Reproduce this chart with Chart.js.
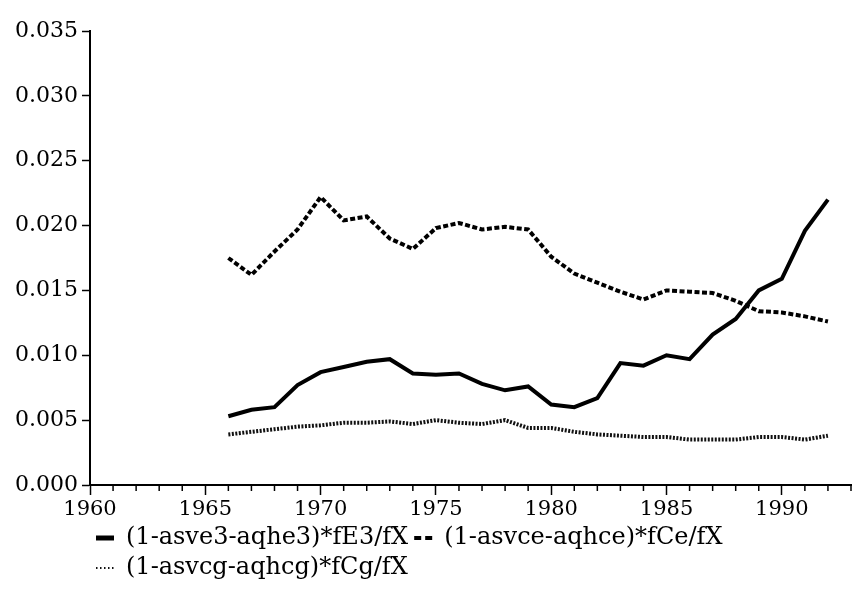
<!DOCTYPE html>
<html>
<head>
<meta charset="utf-8">
<script src="https://cdn.jsdelivr.net/npm/chart.js@4/dist/chart.umd.min.js"></script>
<style>
  body { margin: 0; background: #fff; }
  #wrap { width: 852px; height: 590px; }
</style>
</head>
<body>
<div id="wrap"><canvas id="chart" width="852" height="590"></canvas></div>
<script>
// data
const years = [1966, 1967, 1968, 1969, 1970, 1971, 1972, 1973, 1974, 1975, 1976, 1977, 1978,
               1979, 1980, 1981, 1982, 1983, 1984, 1985, 1986, 1987, 1988, 1989, 1990, 1991, 1992];
const fE3 = [0.0053, 0.0058, 0.0060, 0.0077, 0.0087, 0.0091, 0.0095, 0.0097, 0.0086, 0.0085, 0.0086, 0.0078, 0.0073,
             0.0076, 0.0062, 0.0060, 0.0067, 0.0094, 0.0092, 0.0100, 0.0097, 0.0116, 0.0128, 0.0150, 0.0159, 0.0196, 0.0220];
const fCe = [0.0175, 0.0162, 0.0180, 0.0197, 0.0222, 0.0204, 0.0207, 0.0190, 0.0182, 0.0198, 0.0202, 0.0197, 0.0199,
             0.0197, 0.0176, 0.0163, 0.0156, 0.0149, 0.0143, 0.0150, 0.0149, 0.0148, 0.0142, 0.0134, 0.0133, 0.0130, 0.0126];
const fCg = [0.0039, 0.0041, 0.0043, 0.0045, 0.0046, 0.0048, 0.0048, 0.0049, 0.0047, 0.0050, 0.0048, 0.0047, 0.0050,
             0.0044, 0.0044, 0.0041, 0.0039, 0.0038, 0.0037, 0.0037, 0.0035, 0.0035, 0.0035, 0.0037, 0.0037, 0.0035, 0.0038];

const seriesNames = ['(1-asve3-aqhe3)*fE3/fX', '(1-asvce-aqhce)*fCe/fX', '(1-asvcg-aqhcg)*fCg/fX'];

// axis ticks
const xMajor = [1960, 1965, 1970, 1975, 1980, 1985, 1990];
const xMinor = [1961, 1962, 1963, 1964, 1966, 1967, 1968, 1969, 1971, 1972, 1973, 1974, 1976, 1977, 1978, 1979,
                1981, 1982, 1983, 1984, 1986, 1987, 1988, 1989, 1991, 1992, 1993];
const yTicks = [0, 0.005, 0.010, 0.015, 0.020, 0.025, 0.030, 0.035];

const FONT = 'DejaVu Serif';

// lijnstijlen: [dikte, streepjes] voor plot en legenda
const lineDash = [[], [5, 2.5], [2, 1.5]];
const legendDash = [[], [7, 4], [1.5, 2.5]];
const legendWidth = [5, 4, 2];

function pts(vals) {
    return years.map((yr, i) => ({ x: yr, y: vals[i] }));
}

// kleine jaar-tickjes onder de x-as
const minorTicks = {
    id: 'minorTicks',
    afterDraw(chart) {
        const xs = chart.scales.x;
        const ctx = chart.ctx;
        ctx.save();
        ctx.strokeStyle = '#000';
        ctx.lineWidth = 1.5;
        xMinor.forEach(yr => {
            const px = xs.getPixelForValue(yr);
            ctx.beginPath();
            ctx.moveTo(px, xs.top);
            ctx.lineTo(px, xs.top + 6);
            ctx.stroke();
        });
        ctx.restore();
    }
};

const ctx = document.getElementById('chart').getContext('2d');
new Chart(ctx, {
    type: 'line',
    data: {
        datasets: [
            { label: seriesNames[0], data: pts(fE3), borderColor: '#000', borderWidth: 4, borderDash: lineDash[0] },
            { label: seriesNames[1], data: pts(fCe), borderColor: '#000', borderWidth: 4, borderDash: lineDash[1] },
            { label: seriesNames[2], data: pts(fCg), borderColor: '#111', borderWidth: 4, borderDash: lineDash[2] }
        ]
    },
    options: {
        responsive: false,
        animation: false,
        elements: { point: { radius: 0 }, line: { tension: 0 } },
        layout: { padding: { top: 31, right: 1, left: 0, bottom: 0 } },
        scales: {
            x: {
                type: 'linear',
                min: 1960,
                max: 1993,
                afterBuildTicks: s => { s.ticks = xMajor.map(v => ({ value: v })); },
                afterFit: s => { s.height = 35; },
                border: { display: true, color: '#000', width: 2 },
                grid: { drawOnChartArea: false, drawTicks: true, tickLength: 10, tickColor: '#000', tickWidth: 1.5 },
                ticks: {
                    color: '#000',
                    font: { family: FONT, size: 21 },
                    maxRotation: 0,
                    padding: 2,
                    callback: v => String(v)
                }
            },
            y: {
                min: 0,
                max: 0.035,
                afterBuildTicks: s => { s.ticks = yTicks.map(v => ({ value: v })); },
                afterFit: s => { s.width = 90; },
                border: { display: true, color: '#000', width: 2 },
                grid: { drawOnChartArea: false, drawTicks: true, tickLength: 8, tickColor: '#000', tickWidth: 1.5 },
                ticks: {
                    color: '#000',
                    font: { family: FONT, size: 22 },
                    padding: 4,
                    callback: v => v.toFixed(3)
                }
            }
        },
        plugins: {
            legend: {
                position: 'bottom',
                align: 'start',
                fullSize: false,
                labels: {
                    color: '#000',
                    font: { family: FONT, size: 24 },
                    usePointStyle: true,
                    pointStyle: 'line',
                    pointStyleWidth: 18,
                    padding: 6,
                    generateLabels: chart => chart.data.datasets.map((ds, i) => ({
                        text: ds.label,
                        datasetIndex: i,
                        hidden: false,
                        fontColor: '#000',
                        fillStyle: ds.borderColor,
                        strokeStyle: ds.borderColor,
                        lineWidth: legendWidth[i],
                        lineDash: legendDash[i],
                        lineCap: 'butt',
                        pointStyle: 'line'
                    }))
                }
            },
            tooltip: { enabled: false }
        }
    },
    plugins: [minorTicks]
});
</script>
</body>
</html>
